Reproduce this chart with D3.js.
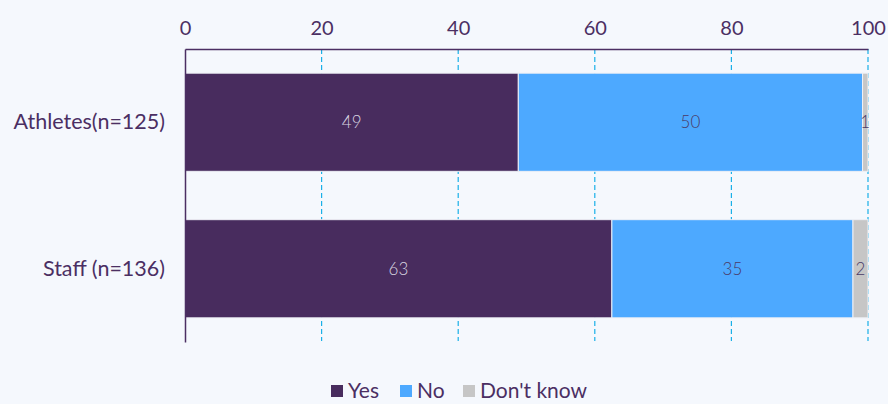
<!DOCTYPE html>
<html>
<head>
<meta charset="utf-8">
<script src="https://cdn.jsdelivr.net/npm/d3@7"></script>
<style>
  html, body { margin: 0; padding: 0; background: #f5f8fd; }
  svg { display: block; font-family: Lato, "Open Sans", sans-serif; }
</style>
</head>
<body>
<div id="chart"></div>
<script>
var categories = ["Athletes(n=125)", "Staff (n=136)"];
var seriesNames = ["Yes", "No", "Don't know"];
// percentages (bar lengths), labels shown rounded
var yes = [48.8, 62.5];
var no = [50.4, 35.3];
var dontKnow = [0.8, 2.2];
var ticks = [0, 20, 40, 60, 80, 100];

var colors = ["#482c5e", "#4da9ff", "#c6c6c6"];
var labelColors = ["#d9d4e0", "#4a3a66", "#4a3a66"];
var textColor = "#4b2f63";

var width = 888, height = 404;

var svg = d3.select("#chart")
  .append("svg")
  .attr("width", width)
  .attr("height", height);

var rows = categories.map(function (c, i) {
  return { cat: c, "Yes": yes[i], "No": no[i], "Don't know": dontKnow[i] };
});
var stacked = d3.stack().keys(seriesNames)(rows);

var x = d3.scaleLinear().domain([0, 100]).range([185, 868]);
var y = d3.scaleBand()
  .domain(categories)
  .range([49, 342])
  .paddingInner(0.33)
  .paddingOuter(0.165);

// gridlines
svg.append("g")
  .selectAll("line")
  .data(ticks.filter(function (t) { return t > 0; }))
  .join("line")
  .attr("x1", d => x(d)).attr("x2", d => x(d))
  .attr("y1", 49).attr("y2", 341)
  .attr("stroke", "#1ab0e8")
  .attr("stroke-width", 1.2)
  .attr("stroke-dasharray", "5,3");

// bars
var groups = svg.append("g")
  .selectAll("g")
  .data(stacked)
  .join("g")
  .attr("fill", (d, i) => colors[i]);

groups.selectAll("rect")
  .data(d => d)
  .join("rect")
  .attr("x", d => x(d[0]))
  .attr("y", d => y(d.data.cat))
  .attr("width", d => x(d[1]) - x(d[0]))
  .attr("height", y.bandwidth())
  .attr("stroke", "#eef0f6")
  .attr("stroke-width", 1);

// labels in bars
stacked.forEach(function (s, i) {
  svg.append("g")
    .selectAll("text")
    .data(s)
    .join("text")
    .attr("x", d => (x(d[0]) + x(d[1])) / 2)
    .attr("y", d => y(d.data.cat) + y.bandwidth() / 2)
    .attr("dy", "0.35em")
    .attr("text-anchor", "middle")
    .attr("font-size", 17)
    .attr("font-weight", 300)
    .attr("fill", labelColors[i])
    .text(d => Math.round(d[1] - d[0]));
});

// top axis
var xAxis = g => g
  .attr("transform", "translate(0,49)")
  .call(d3.axisTop(x).tickValues(ticks).tickSize(0).tickPadding(14))
  .call(g => g.select(".domain").attr("stroke", textColor).attr("stroke-width", 1.5))
  .call(g => g.selectAll("text")
    .attr("font-size", 20)
    .attr("font-family", "Lato, sans-serif")
    .attr("fill", textColor));
svg.append("g").call(xAxis);

// left axis
var yAxis = g => g
  .attr("transform", "translate(185,0)")
  .call(d3.axisLeft(y).tickSize(0).tickPadding(20))
  .call(g => g.select(".domain").attr("stroke", textColor).attr("stroke-width", 1.5))
  .call(g => g.selectAll("text")
    .attr("font-size", 21.5)
    .attr("font-family", "Lato, sans-serif")
    .attr("fill", textColor));
svg.append("g").call(yAxis);

// legend
var legendX = [331, 400, 463];
var legend = svg.append("g")
  .selectAll("g")
  .data(seriesNames)
  .join("g")
  .attr("transform", (d, i) => "translate(" + legendX[i] + ",385)");
legend.append("rect")
  .attr("width", 12).attr("height", 12)
  .attr("fill", (d, i) => colors[i]);
legend.append("text")
  .attr("x", 17).attr("y", 6)
  .attr("dy", "0.35em")
  .attr("font-size", 21)
  .attr("fill", textColor)
  .text(d => d);
</script>
</body>
</html>
